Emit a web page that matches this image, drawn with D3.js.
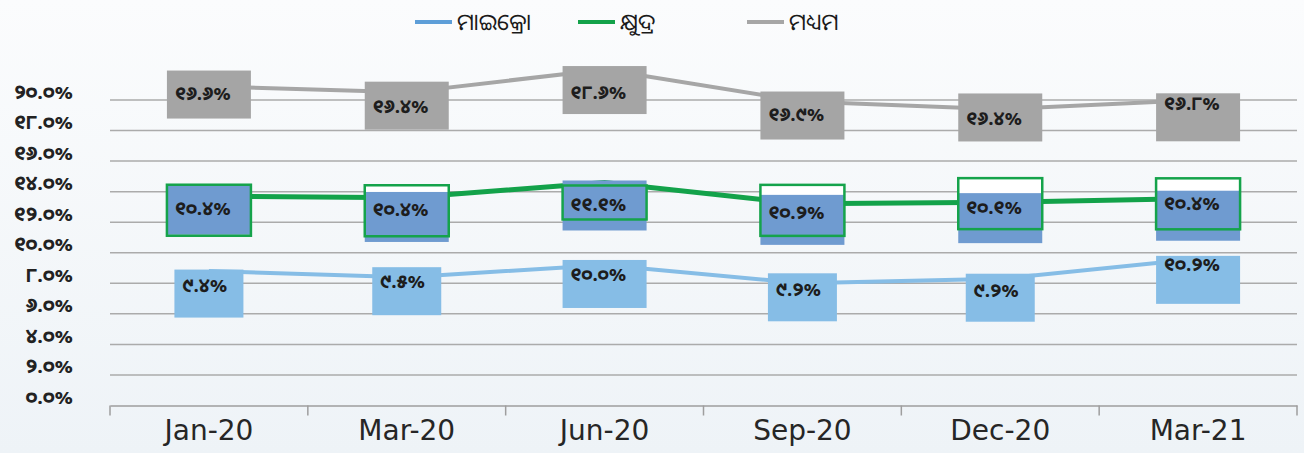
<!DOCTYPE html>
<html>
<head>
<meta charset="utf-8">
<script src="https://cdn.jsdelivr.net/npm/d3@7.9.0/dist/d3.min.js"></script>
<style>
  body { margin: 0; background: #f4f7fa; }
  svg { display: block; }
  .odia { font-family: "Noto Sans Oriya", "Noto Sans Odia", "Lohit Odia", "Kalinga", "DejaVu Sans", sans-serif; }
</style>
</head>
<body>
<svg id="chart" width="1304" height="453"></svg>
<script>
const months = ['Jan-20', 'Mar-20', 'Jun-20', 'Sep-20', 'Dec-20', 'Mar-21'];
const yTicks = [0, 2, 4, 6, 8, 10, 12, 14, 16, 18, 20];

// where the lines sit against the axis
const microLine  = [8.8, 8.4, 9.2, 8.0, 8.3, 9.6];
const smallLine  = [13.7, 13.6, 14.6, 13.2, 13.3, 13.55];
const mediumLine = [20.9, 20.5, 22.0, 19.9, 19.4, 20.0];

// values printed in the label boxes
const microLabel  = [9.4, 9.5, 10.0, 9.2, 9.2, 10.2];
const smallLabel  = [10.4, 10.4, 11.1, 10.2, 10.1, 10.4];
const mediumLabel = [16.6, 16.4, 18.6, 16.9, 16.4, 16.8];

const legendNames = ['ମାଇକ୍ରୋ', 'କ୍ଷୁଦ୍ର', 'ମଧ୍ୟମ'];

// label placement (px, relative to the line point)
const microBoxDy  = [-1.5, -10, -5, -10, -5, -3];
const microTextDy = [13.5, 4, 9, 6, 11.5, 5.5];
const medBoxDy    = [-15.7, -10.7, -3.4, -10, -15.7, -6.7];
const medTextDy   = [7, 14, 22.3, 12.3, 8.7, 2.7];
const smallBoxDy  = [-11.5, -5.8, -2, -9, -9.2, -7.8];
const smallRingDy = [-11.5, -12.5, 3, -19, -24.2, -20.2];
const smallRingH  = [51, 51, 34, 51, 51, 51];
const smallTextDy = [11.8, 10.8, 22, 7.7, 4.2, 4.2];

const toOdia = s => s.replace(/[0-9]/g, d => String.fromCharCode(0x0B66 + +d));
const pct = v => toOdia(v.toFixed(1) + '%');

const svg = d3.select('#chart');

// soft background
const defs = svg.append('defs');
const grad = defs.append('linearGradient').attr('id', 'bg').attr('x1', 0).attr('y1', 0).attr('x2', 0).attr('y2', 1);
grad.append('stop').attr('offset', '0%').attr('stop-color', '#fbfcfd');
grad.append('stop').attr('offset', '100%').attr('stop-color', '#eef3f7');
svg.append('rect').attr('width', 1304).attr('height', 453).attr('fill', 'url(#bg)');

const x = d3.scaleBand().domain(months).range([110, 1297]);
const y = d3.scaleLinear().domain([0, 20]).range([405.5, 100]);
const cx = i => x(months[i]) + x.bandwidth() / 2;

// gridlines
svg.append('g')
  .selectAll('line')
  .data(yTicks.filter(t => t > 0))
  .join('line')
  .attr('x1', 110).attr('x2', 1297)
  .attr('y1', d => y(d)).attr('y2', d => y(d))
  .attr('stroke', '#ababab').attr('stroke-width', 1.5);

// y labels (sit a little above their gridlines, like the original)
svg.append('g')
  .selectAll('text')
  .data(yTicks)
  .join('text')
  .attr('class', 'odia')
  .attr('x', 73)
  .attr('y', d => y(d) - 9)
  .attr('text-anchor', 'end')
  .attr('dominant-baseline', 'central')
  .attr('font-size', 20)
  .attr('font-weight', 'bold')
  .attr('fill', '#222')
  .text(d => toOdia(d.toFixed(1) + '%'));

// x axis
const xAxis = svg.append('g')
  .attr('transform', `translate(0,${y(0)})`)
  .call(d3.axisBottom(x).tickSize(0).tickPadding(15));
xAxis.select('.domain').attr('stroke', '#9e9e9e').attr('stroke-width', 1.5);
xAxis.selectAll('text')
  .attr('font-family', '"DejaVu Sans", sans-serif')
  .attr('font-size', 28)
  .attr('fill', '#262626');
xAxis.selectAll('.edge')
  .data(d3.range(months.length + 1))
  .join('line')
  .attr('class', 'edge')
  .attr('x1', i => x.range()[0] + i * x.bandwidth())
  .attr('x2', i => x.range()[0] + i * x.bandwidth())
  .attr('y1', 0).attr('y2', 10)
  .attr('stroke', '#9e9e9e').attr('stroke-width', 1.5);

// lines
const line = d3.line().x((d, i) => cx(i)).y(d => y(d));
svg.append('path').datum(mediumLine).attr('d', line)
  .attr('fill', 'none').attr('stroke', '#a6a6a6').attr('stroke-width', 4);
svg.append('path').datum(smallLine).attr('d', line)
  .attr('fill', 'none').attr('stroke', '#13a24a').attr('stroke-width', 5);
svg.append('path').datum(microLine).attr('d', line)
  .attr('fill', 'none').attr('stroke', '#86bde6').attr('stroke-width', 4);

const boxW = s => 15 * s.length + 9;
const boxH = 48;

function labelText(g, vals, lineVals, textDy) {
  g.selectAll('text.lbl')
    .data(vals)
    .join('text')
    .attr('class', 'lbl odia')
    .attr('x', (d, i) => cx(i) - boxW(pct(d)) / 2 + 8)
    .attr('y', (d, i) => y(lineVals[i]) + textDy[i])
    .attr('dominant-baseline', 'central')
    .attr('font-size', 19)
    .attr('font-weight', 'bold')
    .attr('fill', '#1d1d1d')
    .text(d => pct(d));
}

// medium labels
const gMed = svg.append('g');
gMed.selectAll('rect')
  .data(mediumLabel)
  .join('rect')
  .attr('x', (d, i) => cx(i) - boxW(pct(d)) / 2)
  .attr('y', (d, i) => y(mediumLine[i]) + medBoxDy[i])
  .attr('width', d => boxW(pct(d)))
  .attr('height', boxH)
  .attr('fill', '#a5a5a5');
labelText(gMed, mediumLabel, mediumLine, medTextDy);

// small labels: white-backed green ring, blue box, green outline
const gSmall = svg.append('g');
gSmall.selectAll('rect.back')
  .data(smallLabel)
  .join('rect')
  .attr('class', 'back')
  .attr('x', (d, i) => cx(i) - boxW(pct(d)) / 2)
  .attr('y', (d, i) => y(smallLine[i]) + smallRingDy[i])
  .attr('width', d => boxW(pct(d)))
  .attr('height', (d, i) => smallRingH[i])
  .attr('fill', '#ffffff');
gSmall.selectAll('rect.fill')
  .data(smallLabel)
  .join('rect')
  .attr('class', 'fill')
  .attr('x', (d, i) => cx(i) - boxW(pct(d)) / 2)
  .attr('y', (d, i) => y(smallLine[i]) + smallBoxDy[i])
  .attr('width', d => boxW(pct(d)))
  .attr('height', 50)
  .attr('fill', '#6f9bd0');
gSmall.selectAll('rect.ring')
  .data(smallLabel)
  .join('rect')
  .attr('class', 'ring')
  .attr('x', (d, i) => cx(i) - boxW(pct(d)) / 2)
  .attr('y', (d, i) => y(smallLine[i]) + smallRingDy[i])
  .attr('width', d => boxW(pct(d)))
  .attr('height', (d, i) => smallRingH[i])
  .attr('fill', 'none')
  .attr('stroke', '#15a34b')
  .attr('stroke-width', 2.5);
labelText(gSmall, smallLabel, smallLine, smallTextDy);

// micro labels
const gMicro = svg.append('g');
gMicro.selectAll('rect')
  .data(microLabel)
  .join('rect')
  .attr('x', (d, i) => cx(i) - boxW(pct(d)) / 2)
  .attr('y', (d, i) => y(microLine[i]) + microBoxDy[i])
  .attr('width', d => boxW(pct(d)))
  .attr('height', boxH)
  .attr('fill', '#86bde6');
labelText(gMicro, microLabel, microLine, microTextDy);

// legend
const legendColors = ['#5d9ed8', '#13a24a', '#a6a6a6'];
const legendX = [415, 578, 747];
const legend = svg.append('g');
legendNames.forEach((name, i) => {
  legend.append('line')
    .attr('x1', legendX[i]).attr('x2', legendX[i] + 37)
    .attr('y1', 22).attr('y2', 22)
    .attr('stroke', legendColors[i]).attr('stroke-width', 4);
  legend.append('text')
    .attr('class', 'odia')
    .attr('x', legendX[i] + 42)
    .attr('y', 21)
    .attr('dominant-baseline', 'central')
    .attr('font-size', 23)
    .attr('fill', '#1a1a1a')
    .text(name);
});
</script>
</body>
</html>
